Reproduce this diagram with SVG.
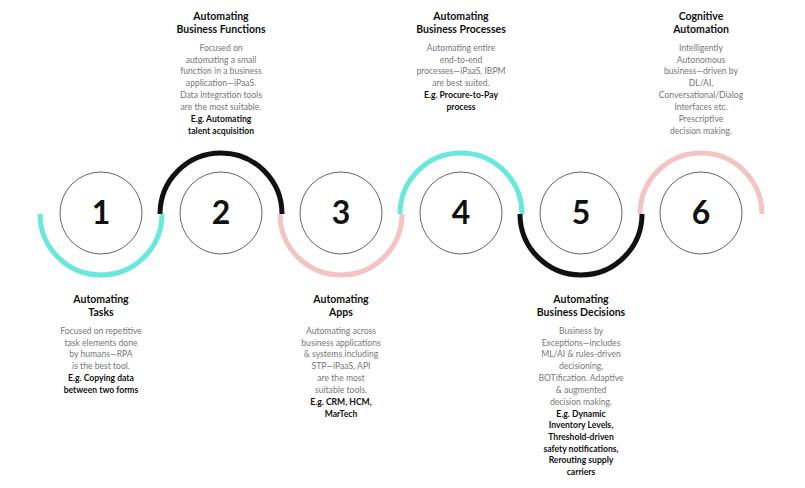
<svg xmlns="http://www.w3.org/2000/svg" width="805" height="488" viewBox="0 0 805 488">
<style>
text{font-family:"Lato","Liberation Sans",sans-serif;text-anchor:middle}
.h{font-size:10.5px;font-weight:bold;fill:#111}
.b{font-size:8.6px;fill:#777}
.e{font-size:8.6px;font-weight:bold;fill:#111}
.n{font-size:32px;font-weight:bold;fill:#111}
.c{fill:#fff;stroke:#666;stroke-width:1}
.a{fill:none;stroke-width:5}
</style>
<rect width="805" height="488" fill="#fff"/>
<g id="connectors">
<path class="a" stroke="#6ae8dc" d="M40 214 A61 61 0 0 0 162 214"/>
<path class="a" stroke="#111" d="M160 214 A61 61 0 0 1 282 214"/>
<path class="a" stroke="#f2c4c3" d="M280 214 A61 61 0 0 0 402 214"/>
<path class="a" stroke="#6ae8dc" d="M400 214 A61 61 0 0 1 522 214"/>
<path class="a" stroke="#111" d="M520 214 A61 61 0 0 0 642 214"/>
<path class="a" stroke="#f2c4c3" d="M640 214 A61 61 0 0 1 762 214"/>
</g>
<g id="n1"><circle class="c" cx="101" cy="213" r="41"/><text class="n" x="101" y="224">1</text>
<text class="h" x="101" y="303">Automating</text><text class="h" x="101" y="316">Tasks</text>
<text class="b" x="101" y="334">Focused on repetitive</text><text class="b" x="101" y="346">task elements done</text><text class="b" x="101" y="357">by humans—RPA</text><text class="b" x="101" y="369">is the best tool.</text>
<text class="e" x="101" y="381">E.g. Copying data</text><text class="e" x="101" y="393">between two forms</text></g>
<g id="n2"><circle class="c" cx="221" cy="213" r="41"/><text class="n" x="221" y="224">2</text>
<text class="h" x="221" y="20">Automating</text><text class="h" x="221" y="33">Business Functions</text>
<text class="b" x="221" y="51">Focused on</text><text class="b" x="221" y="63">automating a small</text><text class="b" x="221" y="74">function in a business</text><text class="b" x="221" y="86">application—iPaaS.</text><text class="b" x="221" y="98">Data integration tools</text><text class="b" x="221" y="110">are the most suitable.</text>
<text class="e" x="221" y="122">E.g. Automating</text><text class="e" x="221" y="134">talent acquisition</text></g>
<g id="n3"><circle class="c" cx="341" cy="213" r="41"/><text class="n" x="341" y="224">3</text>
<text class="h" x="341" y="303">Automating</text><text class="h" x="341" y="316">Apps</text>
<text class="b" x="341" y="334">Automating across</text><text class="b" x="341" y="346">business applications</text><text class="b" x="341" y="357">&amp; systems including</text><text class="b" x="341" y="369">STP—iPaaS, API</text><text class="b" x="341" y="381">are the most</text><text class="b" x="341" y="393">suitable tools.</text>
<text class="e" x="341" y="405">E.g. CRM, HCM,</text><text class="e" x="341" y="417">MarTech</text></g>
<g id="n4"><circle class="c" cx="461" cy="213" r="41"/><text class="n" x="461" y="224">4</text>
<text class="h" x="461" y="20">Automating</text><text class="h" x="461" y="33">Business Processes</text>
<text class="b" x="461" y="51">Automating entire</text><text class="b" x="461" y="63">end-to-end</text><text class="b" x="461" y="74">processes—iPaaS, IBPM</text><text class="b" x="461" y="86">are best suited.</text>
<text class="e" x="461" y="98">E.g. Procure-to-Pay</text><text class="e" x="461" y="110">process</text></g>
<g id="n5"><circle class="c" cx="581" cy="213" r="41"/><text class="n" x="581" y="224">5</text>
<text class="h" x="581" y="303">Automating</text><text class="h" x="581" y="316">Business Decisions</text>
<text class="b" x="581" y="334">Business by</text><text class="b" x="581" y="346">Exceptions—includes</text><text class="b" x="581" y="357">ML/AI &amp; rules-driven</text><text class="b" x="581" y="369">decisioning,</text><text class="b" x="581" y="381">BOTification. Adaptive</text><text class="b" x="581" y="393">&amp; augmented</text><text class="b" x="581" y="405">decision making.</text>
<text class="e" x="581" y="417">E.g. Dynamic</text><text class="e" x="581" y="428">Inventory Levels,</text><text class="e" x="581" y="440">Threshold-driven</text><text class="e" x="581" y="452">safety notifications,</text><text class="e" x="581" y="463">Rerouting supply</text><text class="e" x="581" y="475">carriers</text></g>
<g id="n6"><circle class="c" cx="701" cy="213" r="41"/><text class="n" x="701" y="224">6</text>
<text class="h" x="701" y="20">Cognitive</text><text class="h" x="701" y="33">Automation</text>
<text class="b" x="701" y="51">Intelligently</text><text class="b" x="701" y="63">Autonomous</text><text class="b" x="701" y="74">business—driven by</text><text class="b" x="701" y="86">DL/AI,</text><text class="b" x="701" y="98">Conversational/Dialog</text><text class="b" x="701" y="110">Interfaces etc.</text><text class="b" x="701" y="122">Prescriptive</text><text class="b" x="701" y="134">decision making.</text></g>
</svg>
